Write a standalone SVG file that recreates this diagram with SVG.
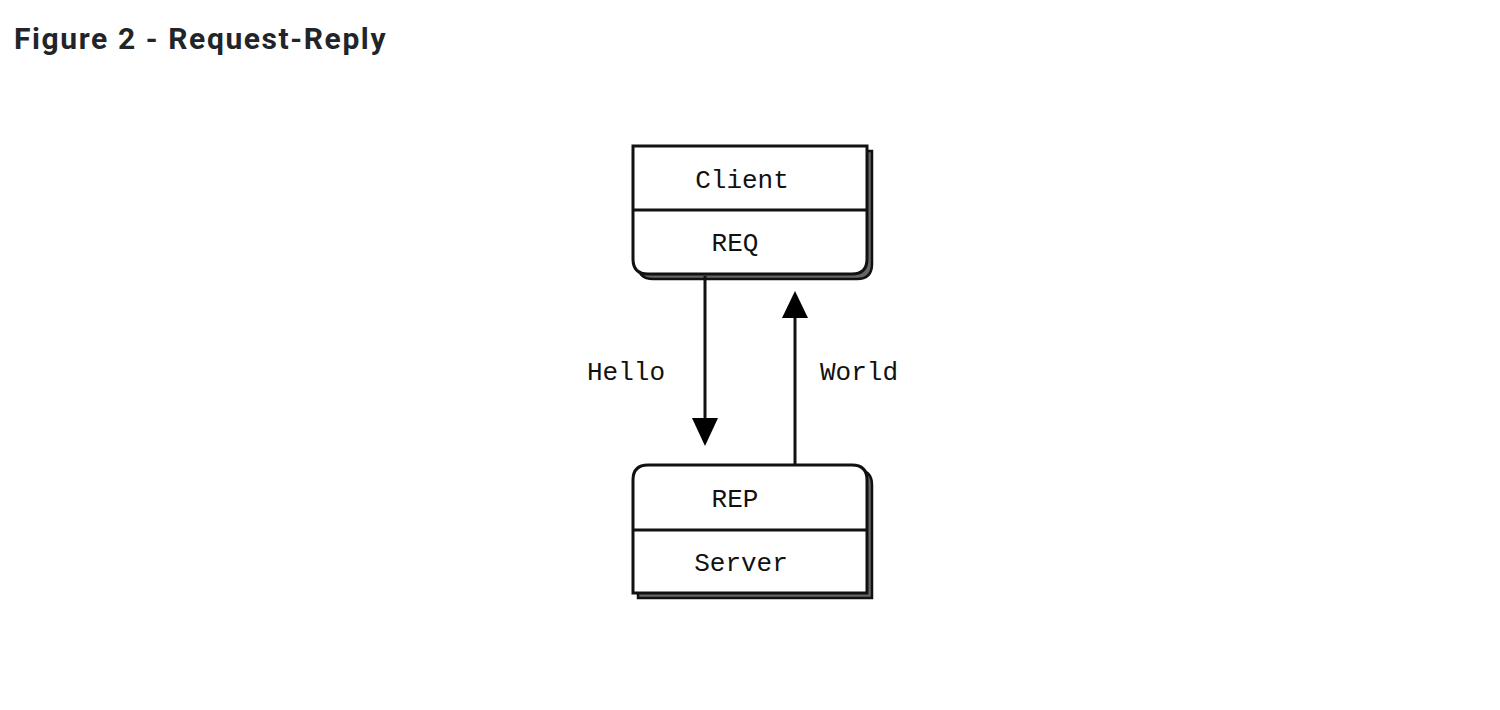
<svg xmlns="http://www.w3.org/2000/svg" width="1500" height="710" viewBox="0 0 1500 710">
<style>
.title{font-family:Roboto,"Liberation Sans",sans-serif;font-weight:bold;font-size:30px;letter-spacing:1.6px;fill:#212529}
.lbl{font-family:"Liberation Mono","DejaVu Sans Mono",monospace;font-size:26px;fill:#111;text-anchor:middle}
.box{fill:#fff;stroke:#111;stroke-width:3}
.shadow{fill:#666;stroke:#111;stroke-width:2.5}
.div{stroke:#111;stroke-width:3}
.conn{stroke:#111;stroke-width:3;fill:none}
.head{fill:#000}
</style>
<rect width="1500" height="710" fill="#fff"/>
<text class="title" x="14" y="49">Figure 2 - Request-Reply</text>
<g id="client">
<path class="shadow" d="M638,151 H872 V264 Q872,279 857,279 H653 Q638,279 638,264 Z"/>
<path class="box" d="M633,146 H867 V259 Q867,274 852,274 H648 Q633,274 633,259 Z"/>
<line class="div" x1="633" y1="210" x2="867" y2="210"/>
<text class="lbl" x="742" y="188">Client</text>
<text class="lbl" x="735" y="251">REQ</text>
</g>
<g id="server">
<path class="shadow" d="M638,598 V485 Q638,470 653,470 H857 Q872,470 872,485 V598 Z"/>
<path class="box" d="M633,593 V480 Q633,465 648,465 H852 Q867,465 867,480 V593 Z"/>
<line class="div" x1="633" y1="530" x2="867" y2="530"/>
<text class="lbl" x="735" y="507">REP</text>
<text class="lbl" x="741" y="571">Server</text>
</g>
<g id="connectors">
<line class="conn" x1="705" y1="276" x2="705" y2="420"/>
<polygon class="head" points="692,418 718,418 705,446"/>
<text class="lbl" x="626" y="380">Hello</text>
<line class="conn" x1="795" y1="465" x2="795" y2="316"/>
<polygon class="head" points="782,318 808,318 795,291"/>
<text class="lbl" x="859" y="380">World</text>
</g>
</svg>
